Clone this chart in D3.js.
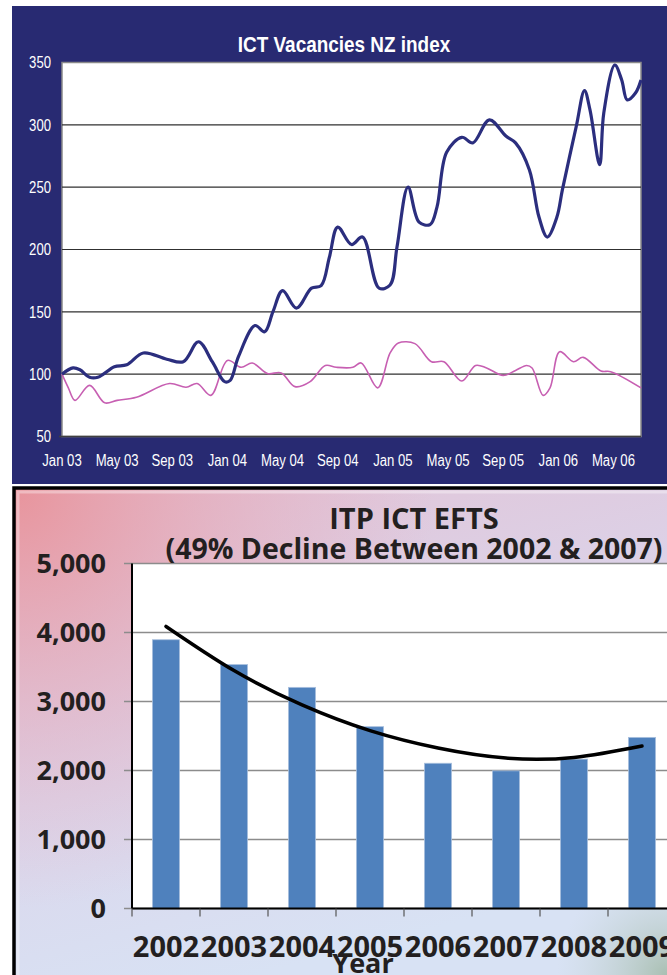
<!DOCTYPE html>
<html>
<head>
<meta charset="utf-8">
<script src="https://cdn.jsdelivr.net/npm/d3@7"></script>
<style>
  body { margin: 0; background: #fff; }
  svg { display: block; }
  .narrow { font-family: "Liberation Sans", Arial, sans-serif; }
  .bold { font-family: "Open Sans", "DejaVu Sans", sans-serif; font-weight: 700; }
</style>
</head>
<body>
<svg id="chart" width="667" height="975"></svg>
<script>
// ICT Vacancies NZ index (months counted from Jan 03)
var ictMonths = [0, 0.8, 1.3, 2.0, 2.6, 3.0, 3.8, 4.7, 5.9, 7.6, 8.8, 9.9, 10.9, 11.8, 12.2, 12.8,
  14.0, 14.7, 15.3, 16.0, 17.0, 18.1, 18.8, 19.4, 20.0, 21.0, 21.8, 23.0, 23.8, 24.3, 25.1,
  25.9, 26.7, 27.2, 27.9, 29.0, 29.8, 31.0, 32.2, 32.9, 33.9, 34.6, 35.2, 35.9, 36.3, 37.3,
  37.9, 38.3, 39.0, 39.3, 40.1, 40.6, 41.0, 41.6, 42.0];
var ictIndex = [100, 105, 103.5, 97.5, 97.5, 100, 106, 107.5, 117, 112, 110, 126, 110, 94, 95, 114,
  139, 134, 150, 167, 153, 169, 171, 194, 218, 204, 210, 169, 171.5, 202, 250,
  222, 220, 234, 278, 290, 285.5, 304, 291, 285.5, 264, 226, 210, 226, 248, 298.5,
  327.5, 312, 268, 309.5, 348, 336, 320, 325.5, 336];

var allMonths = [0, 0.46, 0.94, 2.0, 3.1, 4.0, 5.4, 7.8, 9.0, 9.8, 10.8, 12.0, 13.0, 13.8, 14.9,
  15.9, 16.9, 18.0, 19.1, 19.9, 21.1, 21.7, 22.9, 23.8, 24.4, 25.6, 26.8, 27.7, 29.0, 30.0,
  30.8, 32.0, 32.9, 33.7, 34.1, 34.9, 35.4, 36.1, 37.1, 37.8, 39.1, 39.8, 42.0];
var allIndex = [100, 89, 79, 91, 77, 79, 81.5, 92.5, 89.5, 92.5, 83, 111, 105.5, 109, 100.5,
  101, 90, 94, 107, 105.5, 105.5, 109, 89, 117, 125, 124.5, 110, 110, 94.5, 107,
  105, 99, 103, 107, 105, 83, 89, 118, 110, 113.5, 102.5, 102, 89];

var vacTickMonths = [0, 4, 8, 12, 16, 20, 24, 28, 32, 36, 40];
var vacTickLabels = ["Jan 03", "May 03", "Sep 03", "Jan 04", "May 04", "Sep 04",
  "Jan 05", "May 05", "Sep 05", "Jan 06", "May 06"];
var vacYTicks = [50, 100, 150, 200, 250, 300, 350];

// ITP ICT EFTS
var eftsYears = ["2002", "2003", "2004", "2005", "2006", "2007", "2008", "2009"];
var eftsValues = [3895, 3535, 3205, 2635, 2105, 1995, 2165, 2480];
var eftsTrend = [4088, 3448, 2950, 2577, 2325, 2180, 2190, 2355];
var eftsYTicks = [0, 1000, 2000, 3000, 4000, 5000];

var svg = d3.select("#chart");
var defs = svg.append("defs");

// condensed look for the Arial-Narrow style labels
function squeeze(x, y, k) {
  return "translate(" + x + "," + y + ") scale(" + k + ",1)";
}

// ---------- top panel ----------
var topPanel = svg.append("g").attr("class", "vacancies");

topPanel.append("rect")
  .attr("x", 12).attr("y", 6)
  .attr("width", 660).attr("height", 478)
  .attr("fill", "#282a72");

var vx = d3.scaleLinear().domain([0, 42]).range([62, 641]);
var vy = d3.scaleLinear().domain([50, 350]).range([436.5, 62.5]);

topPanel.append("rect")
  .attr("x", vx(0)).attr("y", vy(350))
  .attr("width", vx(42) - vx(0)).attr("height", vy(50) - vy(350))
  .attr("fill", "#fff")
  .attr("stroke", "#8a8a8a")
  .attr("stroke-width", 1.5);

topPanel.append("g").selectAll("line")
  .data(vacYTicks.filter(function(d) { return d > 50 && d < 350; }))
  .enter().append("line")
  .attr("x1", vx(0)).attr("x2", vx(42))
  .attr("y1", function(d) { return vy(d); })
  .attr("y2", function(d) { return vy(d); })
  .attr("stroke", "#303030")
  .attr("stroke-width", 1.2);

topPanel.append("line")
  .attr("x1", vx(0) - 3).attr("x2", vx(42))
  .attr("y1", vy(50)).attr("y2", vy(50))
  .attr("stroke", "#404040").attr("stroke-width", 1.5);

topPanel.append("g").selectAll("text")
  .data(vacYTicks)
  .enter().append("text")
  .attr("class", "narrow")
  .attr("transform", function(d) { return squeeze(51, vy(d), 0.82); })
  .attr("dy", "0.36em")
  .attr("text-anchor", "end")
  .attr("font-size", 16)
  .attr("fill", "#fff")
  .text(function(d) { return d; });

topPanel.append("g").selectAll("text")
  .data(vacTickMonths)
  .enter().append("text")
  .attr("class", "narrow")
  .attr("transform", function(d) { return squeeze(vx(d), 466, 0.82); })
  .attr("text-anchor", "middle")
  .attr("font-size", 16)
  .attr("fill", "#fff")
  .text(function(d, i) { return vacTickLabels[i]; });

topPanel.append("text")
  .attr("class", "narrow")
  .attr("transform", squeeze(344, 52, 0.88))
  .attr("text-anchor", "middle")
  .attr("font-size", 21.5)
  .attr("font-weight", "bold")
  .attr("fill", "#fff")
  .text("ICT Vacancies NZ index");

var vline = d3.line()
  .x(function(d) { return vx(d[0]); })
  .y(function(d) { return vy(d[1]); })
  .curve(d3.curveCatmullRom.alpha(0.5));

topPanel.append("path")
  .datum(d3.zip(allMonths, allIndex))
  .attr("d", vline)
  .attr("fill", "none")
  .attr("stroke", "#c75fb2")
  .attr("stroke-width", 1.6);

topPanel.append("path")
  .datum(d3.zip(ictMonths, ictIndex))
  .attr("d", vline)
  .attr("fill", "none")
  .attr("stroke", "#2b2e7e")
  .attr("stroke-width", 3.2)
  .attr("stroke-linejoin", "round");

// ---------- bottom panel ----------
var bot = svg.append("g").attr("class", "efts");

var grad = defs.append("linearGradient")
  .attr("id", "bg").attr("x1", 0).attr("y1", 0).attr("x2", 0.35).attr("y2", 1);
[["0", "#e2c2d4"], ["0.45", "#dcd2e8"], ["1", "#d8e2f4"]]
  .forEach(function(s) { grad.append("stop").attr("offset", s[0]).attr("stop-color", s[1]); });

var pink = defs.append("radialGradient")
  .attr("id", "pink").attr("gradientUnits", "userSpaceOnUse")
  .attr("cx", 14).attr("cy", 488).attr("r", 420);
[["0", "#e8949c", 1], ["0.45", "#e6a6b4", 0.6], ["1", "#e6b0c4", 0]]
  .forEach(function(s) {
    pink.append("stop").attr("offset", s[0]).attr("stop-color", s[1]).attr("stop-opacity", s[2]);
  });

var corner = defs.append("radialGradient")
  .attr("id", "corner").attr("gradientUnits", "userSpaceOnUse")
  .attr("cx", 667).attr("cy", 975).attr("r", 110);
[["0", "#a9bfb2", 1], ["1", "#c8d6d8", 0]]
  .forEach(function(s) {
    corner.append("stop").attr("offset", s[0]).attr("stop-color", s[1]).attr("stop-opacity", s[2]);
  });

bot.append("rect")
  .attr("x", 14).attr("y", 488)
  .attr("width", 660).attr("height", 490)
  .attr("fill", "url(#bg)");
bot.append("rect")
  .attr("x", 14).attr("y", 488)
  .attr("width", 660).attr("height", 490)
  .attr("fill", "url(#pink)");
bot.append("rect")
  .attr("x", 14).attr("y", 488)
  .attr("width", 660).attr("height", 490)
  .attr("fill", "url(#corner)");

bot.append("rect")
  .attr("x", 18).attr("y", 492)
  .attr("width", 660).attr("height", 490)
  .attr("fill", "none")
  .attr("stroke", "#fff")
  .attr("stroke-opacity", 0.35)
  .attr("stroke-width", 3);

bot.append("rect")
  .attr("x", 14).attr("y", 488)
  .attr("width", 660).attr("height", 490)
  .attr("fill", "none")
  .attr("stroke", "#000")
  .attr("stroke-width", 3.5);

var bx = d3.scaleBand().domain(eftsYears).range([132, 676]).paddingInner(0.6).paddingOuter(0.3);
var by = d3.scaleLinear().domain([0, 5000]).range([908.5, 563.5]);

bot.append("rect")
  .attr("x", 132).attr("y", by(5000))
  .attr("width", 544).attr("height", by(0) - by(5000))
  .attr("fill", "#fff");

bot.append("g").selectAll("line")
  .data(eftsYTicks)
  .enter().append("line")
  .attr("x1", 124).attr("x2", 676)
  .attr("y1", function(d) { return by(d); })
  .attr("y2", function(d) { return by(d); })
  .attr("stroke", "#8c8c8c")
  .attr("stroke-width", 1.5);

bot.append("g").selectAll("rect")
  .data(eftsValues)
  .enter().append("rect")
  .attr("x", function(d, i) { return bx(eftsYears[i]); })
  .attr("y", function(d) { return by(d); })
  .attr("width", bx.bandwidth())
  .attr("height", function(d) { return by(0) - by(d); })
  .attr("fill", "#4f81bd")
  .attr("stroke", "#a9c0de")
  .attr("stroke-width", 0.8);

bot.append("line")
  .attr("x1", 132).attr("x2", 132)
  .attr("y1", by(5000)).attr("y2", by(0))
  .attr("stroke", "#000").attr("stroke-width", 2);

bot.append("line")
  .attr("x1", 132).attr("x2", 676)
  .attr("y1", by(0)).attr("y2", by(0))
  .attr("stroke", "#000").attr("stroke-width", 2);

bot.append("g").selectAll("line")
  .data(d3.range(eftsYears.length + 1))
  .enter().append("line")
  .attr("x1", function(i) { return 132 + i * bx.step(); })
  .attr("x2", function(i) { return 132 + i * bx.step(); })
  .attr("y1", by(0)).attr("y2", by(0) + 8)
  .attr("stroke", "#555").attr("stroke-width", 1.2);

bot.append("path")
  .datum(eftsTrend)
  .attr("d", d3.line()
    .x(function(d, i) { return bx(eftsYears[i]) + bx.bandwidth() / 2; })
    .y(function(d) { return by(d); })
    .curve(d3.curveNatural))
  .attr("fill", "none")
  .attr("stroke", "#000")
  .attr("stroke-width", 3.5)
  .attr("stroke-linecap", "round");

bot.append("g").selectAll("text")
  .data(eftsYTicks)
  .enter().append("text")
  .attr("class", "bold")
  .attr("x", 106)
  .attr("y", function(d) { return by(d); })
  .attr("dy", "0.36em")
  .attr("text-anchor", "end")
  .attr("font-size", 27)
  .attr("fill", "#231f20")
  .text(function(d) { return d3.format(",")(d); });

bot.append("g").selectAll("text")
  .data(eftsYears)
  .enter().append("text")
  .attr("class", "bold")
  .attr("x", function(d) { return bx(d) + bx.bandwidth() / 2; })
  .attr("y", 957)
  .attr("text-anchor", "middle")
  .attr("font-size", 29)
  .attr("fill", "#231f20")
  .text(function(d) { return d; });

bot.append("text")
  .attr("class", "bold")
  .attr("x", 363).attr("y", 973)
  .attr("text-anchor", "middle")
  .attr("font-size", 27)
  .attr("fill", "#231f20")
  .text("Year");

bot.append("text")
  .attr("class", "bold")
  .attr("x", 414).attr("y", 529)
  .attr("text-anchor", "middle")
  .attr("font-size", 29)
  .attr("fill", "#231f20")
  .text("ITP ICT EFTS");

bot.append("text")
  .attr("class", "bold")
  .attr("x", 414).attr("y", 559)
  .attr("text-anchor", "middle")
  .attr("font-size", 28.5)
  .attr("fill", "#231f20")
  .text("(49% Decline Between 2002 & 2007)");
</script>
</body>
</html>
